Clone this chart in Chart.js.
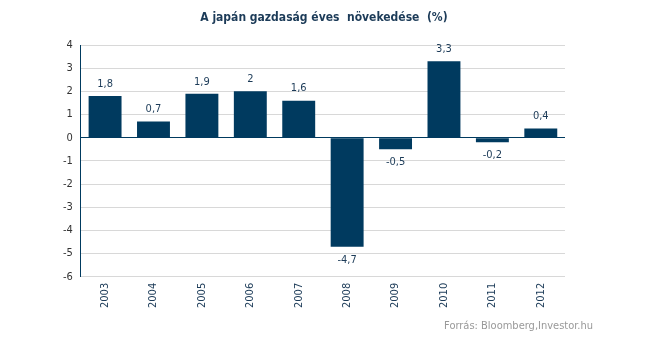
<!DOCTYPE html>
<html>
<head>
<meta charset="utf-8">
<script src="https://cdn.jsdelivr.net/npm/chart.js@4/dist/chart.umd.min.js"></script>
<style>
  html, body { margin: 0; padding: 0; background: #fff; }
  #wrap { width: 645px; height: 338px; position: relative; }
</style>
</head>
<body>
<div id="wrap"><canvas id="chart-growth"></canvas></div>
<script>
const years = ["2003", "2004", "2005", "2006", "2007", "2008", "2009", "2010", "2011", "2012"];
const growth = [1.8, 0.7, 1.9, 2, 1.6, -4.7, -0.5, 3.3, -0.2, 0.4];
const yTicks = [4, 3, 2, 1, 0, -1, -2, -3, -4, -5, -6];
const chartTitle = "A japán gazdaság éves  növekedése  (%)";
const sourceNote = "Forrás: Bloomberg,Investor.hu";

const navy = "#003a5f";
const textNavy = "#1c3b58";
const fontFam = "'DejaVu Sans Condensed', 'DejaVu Sans', sans-serif";

// value labels above / below each bar, decimal comma
const barValues = {
  id: "barValues",
  afterDatasetsDraw(chart) {
    const c = chart.ctx;
    const meta = chart.getDatasetMeta(0);
    c.save();
    c.font = "11px " + fontFam;
    c.fillStyle = textNavy;
    c.textAlign = "center";
    c.textBaseline = "middle";
    meta.data.forEach(function (bar, i) {
      const v = growth[i];
      const txt = String(v).replace(".", ",");
      const y = v >= 0 ? bar.y - 12 : bar.y + 13;
      c.fillText(txt, bar.x, y);
    });
    c.restore();
  }
};

// title over the plot, source note bottom right
const headerFooter = {
  id: "headerFooter",
  afterDraw(chart) {
    const c = chart.ctx;
    const area = chart.chartArea;
    c.save();
    c.textBaseline = "middle";
    c.font = "bold 12px " + fontFam;
    c.fillStyle = textNavy;
    c.textAlign = "center";
    c.fillText(chartTitle, (area.left + area.right) / 2 + 1, 18);
    c.font = "11px " + fontFam;
    c.fillStyle = "#999";
    c.textAlign = "right";
    c.fillText(sourceNote, 593, 326);
    c.restore();
  }
};

const ctx = document.getElementById("chart-growth").getContext("2d");

new Chart(ctx, {
  type: "bar",
  data: {
    labels: years,
    datasets: [{
      label: "Növekedés",
      data: growth,
      backgroundColor: navy,
      borderWidth: 0,
      categoryPercentage: 0.68,
      barPercentage: 1
    }]
  },
  options: {
    responsive: true,
    maintainAspectRatio: false,
    animation: false,
    layout: {
      padding: { left: 55, right: 80, top: 45, bottom: 24 }
    },
    plugins: {
      legend: { display: false },
      tooltip: { enabled: false },
      title: { display: false }
    },
    scales: {
      y: {
        min: -6,
        max: 4,
        afterBuildTicks: function (scale) {
          scale.ticks = yTicks.map(v => ({ value: v }));
        },
        border: { display: true, color: navy, width: 1 },
        grid: {
          drawTicks: false,
          color: function (c) { return c.tick && c.tick.value === 0 ? navy : "#d8d8d8"; }
        },
        ticks: {
          color: "#333",
          padding: 8,
          font: { family: fontFam, size: 11 }
        }
      },
      x: {
        border: { display: false },
        grid: { display: false, drawTicks: false },
        ticks: {
          color: textNavy,
          maxRotation: 90,
          minRotation: 90,
          padding: 6,
          font: { family: fontFam, size: 11 }
        }
      }
    }
  },
  plugins: [barValues, headerFooter]
});
</script>
</body>
</html>
